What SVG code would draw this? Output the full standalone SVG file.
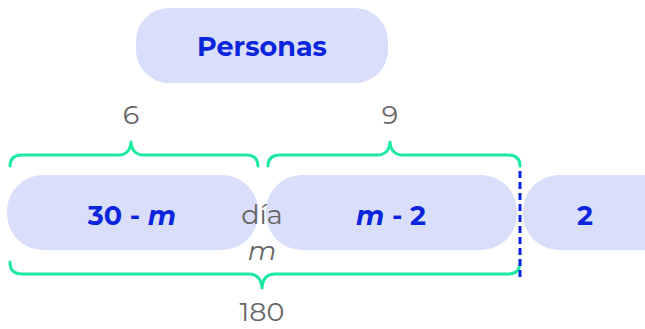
<svg xmlns="http://www.w3.org/2000/svg" width="645" height="329" viewBox="0 0 645 329">
<style>
.box{fill:#d9defa}
.lbl{font-family:"Montserrat","Liberation Sans",Arial,sans-serif;font-weight:bold;font-size:27px;fill:#0a25dc;text-anchor:middle}
.num{font-family:"Montserrat","Noto Sans","Liberation Sans",sans-serif;font-size:27px;fill:#666;text-anchor:middle}
.brace{fill:none;stroke:#1de9a0;stroke-width:3;stroke-linecap:round;stroke-linejoin:round}
</style>
<rect width="645" height="329" fill="#fff"/>
<g id="personas"><rect class="box" x="136" y="8" width="252" height="75" rx="33"/><text class="lbl" x="262" y="56">Personas</text></g>
<g id="n30m"><rect class="box" x="7" y="175" width="251" height="75" rx="36"/><text class="lbl" x="132" y="225">30 - <tspan font-style="italic">m</tspan></text></g>
<g id="nm2"><rect class="box" x="266" y="175" width="251" height="75" rx="36"/><text class="lbl" x="391" y="225"><tspan font-style="italic">m</tspan> - 2</text></g>
<g id="n2"><rect class="box" x="523" y="175" width="251" height="75" rx="36"/><text class="lbl" x="585" y="225">2</text></g>
<g id="connectors">
<path class="brace" d="M10,166 Q10,155 22,155 L118,155 Q130,155 131,142 Q132,155 144,155 L246,155 Q258,155 258,166"/>
<path class="brace" d="M268,166 Q268,155 280,155 L377,155 Q389,155 390,142 Q391,155 403,155 L508,155 Q520,155 520,166"/>
<path class="brace" d="M10,262 Q10,274 22,274 L249,274 Q261,274 262,288 Q263,274 275,274 L508,274 Q520,274 520,262"/>
<line x1="520" y1="171" x2="520" y2="277" stroke="#0a25dc" stroke-width="3" stroke-dasharray="7,4"/>
</g>
<text class="num" x="131" y="124">6</text>
<text class="num" x="390" y="124">9</text>
<text class="num" x="262" y="224">día</text>
<text class="num" x="262" y="260" font-style="italic">m</text>
<text class="num" x="262" y="321">180</text>
</svg>
